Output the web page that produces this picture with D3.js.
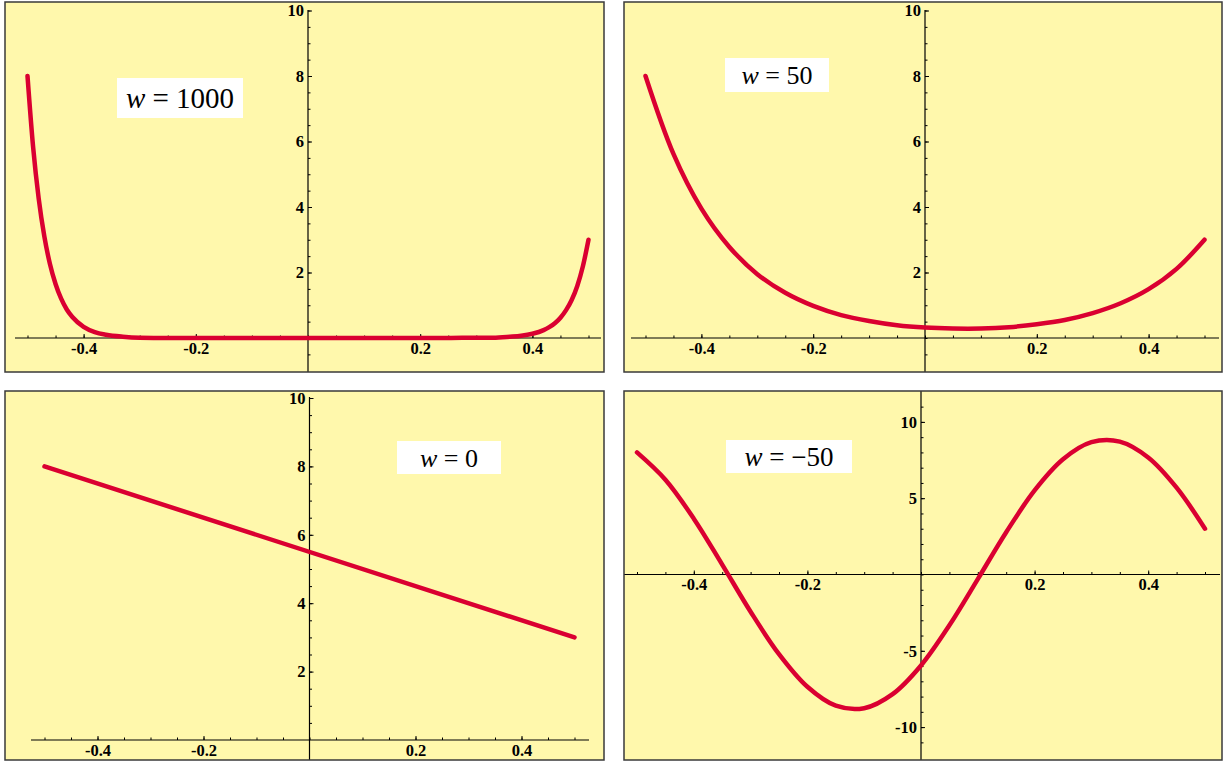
<!DOCTYPE html>
<html>
<head>
<meta charset="utf-8">
<script src="https://cdn.jsdelivr.net/npm/d3@7"></script>
<style>
  body { margin: 0; background: #fff; }
  text { font-family: "Liberation Serif", "Times New Roman", serif; }
</style>
</head>
<body>
<div id="chart"></div>
<script>
// Values (y at x), w = 1000 / 50 / 0 / -50
var xGrid = [-0.5, -0.45, -0.4, -0.35, -0.3, -0.25, -0.2, -0.15, -0.1, -0.05, 0,
             0.05, 0.1, 0.15, 0.2, 0.25, 0.3, 0.35, 0.4, 0.45, 0.5];

var x1000 = [-0.5, -0.49, -0.48, -0.47, -0.46, -0.45, -0.44, -0.43, -0.42, -0.4, -0.38, -0.36,
             -0.33, -0.3, -0.25, -0.2, 0, 0.2, 0.25, 0.3, 0.33, 0.36, 0.38, 0.4, 0.42, 0.43,
             0.44, 0.45, 0.46, 0.47, 0.48, 0.49, 0.5];
var w1000 = [8, 5.83, 4.25, 3.1, 2.26, 1.65, 1.2, 0.87, 0.64, 0.34, 0.18, 0.1,
             0.04, 0.01, 0, 0, 0, 0, 0, 0.01, 0.01, 0.04, 0.07, 0.13, 0.24, 0.33,
             0.45, 0.62, 0.85, 1.16, 1.59, 2.19, 3];

var w50 = [8, 5.62, 3.95, 2.78, 1.95, 1.38, 0.98, 0.7, 0.52, 0.39, 0.32,
           0.29, 0.29, 0.33, 0.42, 0.55, 0.76, 1.06, 1.49, 2.11, 3];

var x0 = [-0.5, 0.5];
var w0 = [8, 3];

var wNeg50 = [8, 6.21, 3.66, 0.65, -2.44, -5.22, -7.36, -8.6, -8.76, -7.84, -5.96,
              -3.33, -0.3, 2.77, 5.51, 7.55, 8.67, 8.71, 7.67, 5.69, 3];

var wLabels = ["1000", "50", "0", "\u221250"];

var xTicks = [-0.4, -0.2, 0.2, 0.4];
var xMinor = d3.range(-10, 11).map(d => d * 0.05);
var yTicksPos = [2, 4, 6, 8, 10];
var yTicksSym = [-10, -5, 5, 10];

// panel layout in page pixels
var panels = [
  { frame: [5, 2, 604, 372], ox: 308, oy: 338, kx: 561, ky: 32.75, xLine: [15, 601], yLine: [10, 372],
    xs: x1000, ys: w1000, curve: d3.curveMonotoneX, yMajor: yTicksPos, yMinor: d3.range(-1, 21).map(d => d * 0.5),
    box: [117, 78, 126, 40], font: 29, label: wLabels[0] },
  { frame: [624, 2, 1222, 372], ox: 925, oy: 338, kx: 559, ky: 32.75, xLine: [631, 1219], yLine: [10, 372],
    xs: xGrid, ys: w50, curve: d3.curveCatmullRom, yMajor: yTicksPos, yMinor: d3.range(-1, 21).map(d => d * 0.5),
    box: [725, 58, 104, 34], font: 26, label: wLabels[1] },
  { frame: [5, 391, 604, 760], ox: 309.5, oy: 740, kx: 530, ky: 34.2, xLine: [31, 589], yLine: [397, 760],
    xs: x0, ys: w0, curve: d3.curveLinear, yMajor: yTicksPos, yMinor: d3.range(1, 21).map(d => d * 0.5),
    box: [397, 441, 104, 33], font: 26, label: wLabels[2] },
  { frame: [624, 391, 1222, 760], ox: 921, oy: 574.5, kx: 568, ky: 15.26, xLine: [624, 1220], yLine: [391, 760],
    xs: xGrid, ys: wNeg50, curve: d3.curveCatmullRom, yMajor: yTicksSym, yMinor: d3.range(-11, 12),
    box: [726, 440, 126, 33], font: 27, label: wLabels[3] }
];

var svg = d3.select("#chart").append("svg")
  .attr("width", 1229)
  .attr("height", 765);

var fmt = d => String(d);

panels.forEach(function(p, i) {
  var g = svg.append("g");
  var fw = p.frame[2] - p.frame[0], fh = p.frame[3] - p.frame[1];

  g.append("clipPath").attr("id", "clip" + i)
    .append("rect").attr("x", p.frame[0]).attr("y", p.frame[1]).attr("width", fw).attr("height", fh);

  g.append("rect")
    .attr("x", p.frame[0]).attr("y", p.frame[1]).attr("width", fw).attr("height", fh)
    .attr("fill", "#fff8ac");

  var x = d3.scaleLinear().domain([0, 1]).range([p.ox, p.ox + p.kx]);
  var y = d3.scaleLinear().domain([0, 1]).range([p.oy, p.oy - p.ky]);

  var inner = g.append("g").attr("clip-path", "url(#clip" + i + ")");

  // x axis: ticks point up, labels below
  var xa = inner.append("g").attr("transform", `translate(0,${p.oy})`);
  xa.call(d3.axisBottom(x).tickValues(xMinor).tickSize(-2.5).tickFormat(""));
  xa.append("g").call(d3.axisBottom(x).tickValues(xTicks).tickSize(-4).tickPadding(4).tickFormat(fmt));
  xa.selectAll(".domain").remove();
  xa.append("line").attr("x1", p.xLine[0]).attr("x2", p.xLine[1]).attr("stroke", "#000").attr("stroke-width", 1.2);

  // y axis: ticks point right, labels left
  var ya = inner.append("g").attr("transform", `translate(${p.ox},0)`);
  ya.call(d3.axisLeft(y).tickValues(p.yMinor).tickSize(-2.5).tickFormat(""));
  ya.append("g").call(d3.axisLeft(y).tickValues(p.yMajor).tickSize(-4).tickPadding(4).tickFormat(fmt));
  ya.selectAll(".domain").remove();
  ya.append("line").attr("y1", p.yLine[0]).attr("y2", p.yLine[1]).attr("stroke", "#000").attr("stroke-width", 1.2);

  inner.selectAll(".tick line").attr("stroke", "#000").attr("stroke-width", 1);
  inner.selectAll(".tick text")
    .attr("fill", "#000")
    .attr("font-family", "'Liberation Serif', 'Times New Roman', serif")
    .attr("font-weight", "bold")
    .attr("font-size", 16.5);

  // the curve
  var pts = p.xs.map((d, j) => [d, p.ys[j]]);
  inner.append("path")
    .datum(pts)
    .attr("fill", "none")
    .attr("stroke", "#da0031")
    .attr("stroke-width", 4.5)
    .attr("stroke-linecap", "round")
    .attr("stroke-linejoin", "round")
    .attr("d", d3.line().x(d => x(d[0])).y(d => y(d[1])).curve(p.curve));

  // w label
  inner.append("rect")
    .attr("x", p.box[0]).attr("y", p.box[1]).attr("width", p.box[2]).attr("height", p.box[3])
    .attr("fill", "#fff");
  var t = inner.append("text")
    .attr("x", p.box[0] + p.box[2] / 2)
    .attr("y", p.box[1] + p.box[3] / 2)
    .attr("dy", "0.35em")
    .attr("text-anchor", "middle")
    .style("font-size", p.font + "px")
    .attr("fill", "#000");
  t.append("tspan").style("font-style", "italic").text("w");
  t.append("tspan").text(" = " + p.label);

  // frame
  g.append("rect")
    .attr("x", p.frame[0]).attr("y", p.frame[1]).attr("width", fw).attr("height", fh)
    .attr("fill", "none").attr("stroke", "#3a3a3a").attr("stroke-width", 1.5);
});
</script>
</body>
</html>
